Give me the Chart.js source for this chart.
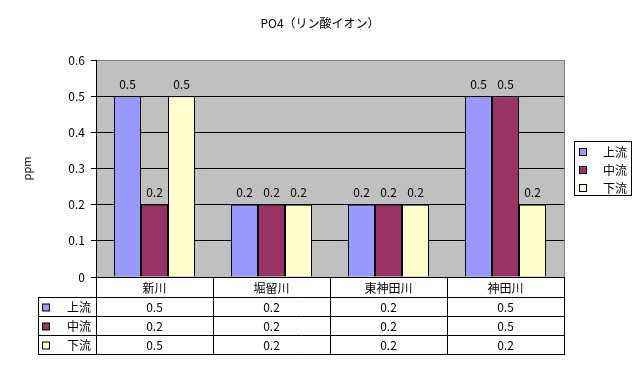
<!DOCTYPE html>
<html>
<head>
<meta charset="utf-8">
<script src="https://cdn.jsdelivr.net/npm/chart.js@4"></script>
<style>
  html, body { margin: 0; padding: 0; background: #ffffff; }
  #wrap { width: 642px; height: 370px; }
</style>
</head>
<body>
<div id="wrap"><canvas id="chart" width="642" height="370"></canvas></div>
<script>
// データ
const categories = ['新川', '堀留川', '東神田川', '神田川'];
const seriesNames = ['上流', '中流', '下流'];
const upstream = [0.5, 0.2, 0.2, 0.5];
const midstream = [0.2, 0.2, 0.2, 0.5];
const downstream = [0.5, 0.2, 0.2, 0.2];
const yTicks = [0, 0.1, 0.2, 0.3, 0.4, 0.5, 0.6];

const colors = ['#9999FF', '#993366', '#FFFFCC'];
const FONT = '"Noto Sans CJK JP", "Liberation Sans", sans-serif';

Chart.defaults.font.family = FONT;
Chart.defaults.font.size = 12;
Chart.defaults.color = '#000000';

// 背景・タイトル・値ラベル・データテーブル・凡例
const excelPlugin = {
    id: 'excelLook',
    beforeDraw(chart) {
        const { ctx, chartArea: a } = chart;
        ctx.save();
        ctx.fillStyle = '#C0C0C0';
        ctx.fillRect(a.left, a.top, a.right - a.left, a.bottom - a.top);
        ctx.restore();
    },
    afterDraw(chart) {
        const { ctx, chartArea: a } = chart;
        const xs = chart.scales.x;
        ctx.save();

        // 枠（右側）
        ctx.strokeStyle = '#808080';
        ctx.lineWidth = 1;
        ctx.beginPath();
        ctx.moveTo(a.right + 0.5, a.top);
        ctx.lineTo(a.right + 0.5, a.bottom);
        ctx.stroke();

        // タイトル
        ctx.fillStyle = '#000';
        ctx.font = '12px ' + FONT;
        ctx.textAlign = 'center';
        ctx.textBaseline = 'middle';
        ctx.fillText('PO4（リン酸イオン）', 320, 23);

        // 値ラベル
        chart.data.datasets.forEach((ds, i) => {
            chart.getDatasetMeta(i).data.forEach((bar, j) => {
                ctx.fillText(ds.data[j].toFixed(1), bar.x, bar.y - 12);
            });
        });

        // データテーブル
        const catW = (a.right - a.left) / categories.length;
        const tableLeft = 38;
        const rowY = [a.bottom, a.bottom + 20, a.bottom + 39, a.bottom + 58, a.bottom + 77];
        ctx.strokeStyle = '#000';
        ctx.beginPath();
        for (let i = 0; i <= categories.length; i++) {
            const x = Math.round(a.left + i * catW) + 0.5;
            ctx.moveTo(x, rowY[0]);
            ctx.lineTo(x, rowY[4]);
        }
        ctx.moveTo(tableLeft + 0.5, rowY[1]);
        ctx.lineTo(tableLeft + 0.5, rowY[4]);
        for (let r = 1; r < rowY.length; r++) {
            ctx.moveTo(tableLeft, rowY[r] + 0.5);
            ctx.lineTo(Math.round(a.right) + 1, rowY[r] + 0.5);
        }
        ctx.stroke();

        categories.forEach((c, j) => {
            const cx = xs.getPixelForValue(j);
            ctx.fillText(c, cx, (rowY[0] + rowY[1]) / 2 + 1);
        });
        chart.data.datasets.forEach((ds, i) => {
            const cy = (rowY[i + 1] + rowY[i + 2]) / 2 + 1;
            ds.data.forEach((v, j) => {
                ctx.fillText(v.toFixed(1), xs.getPixelForValue(j), cy);
            });
            // 凡例マーカー
            ctx.fillStyle = ds.backgroundColor;
            ctx.fillRect(42.5, cy - 3.5, 7, 7);
            ctx.strokeRect(42.5, cy - 3.5, 7, 7);
            ctx.fillStyle = '#000';
            ctx.textAlign = 'right';
            ctx.fillText(ds.label, 91, cy);
            ctx.textAlign = 'center';
        });

        // 凡例
        ctx.strokeRect(574.5, 141.5, 57, 54);
        chart.data.datasets.forEach((ds, i) => {
            const cy = 152 + i * 18;
            ctx.fillStyle = ds.backgroundColor;
            ctx.fillRect(579.5, cy - 3.5, 7, 7);
            ctx.strokeRect(579.5, cy - 3.5, 7, 7);
            ctx.fillStyle = '#000';
            ctx.textAlign = 'right';
            ctx.fillText(ds.label, 627, cy);
        });

        ctx.restore();
    }
};

new Chart(document.getElementById('chart'), {
    type: 'bar',
    data: {
        labels: categories,
        datasets: [upstream, midstream, downstream].map((vals, i) => ({
            label: seriesNames[i],
            data: vals,
            backgroundColor: colors[i],
            borderColor: '#000000',
            borderWidth: 1,
            barPercentage: 1,
            categoryPercentage: 81 / 117
        }))
    },
    options: {
        responsive: false,
        animation: false,
        layout: { padding: { top: 60, right: 78, bottom: 0, left: 0 } },
        plugins: {
            legend: { display: false },
            title: { display: false },
            tooltip: { enabled: false }
        },
        scales: {
            x: {
                grid: { display: false },
                border: { color: '#000000', width: 1 },
                ticks: { display: false },
                afterFit(scale) { scale.height = 93; }
            },
            y: {
                min: 0,
                max: 0.6,
                afterBuildTicks(scale) { scale.ticks = yTicks.map(v => ({ value: v })); },
                ticks: {
                    padding: 6,
                    callback: v => (v === 0 ? '0' : v.toFixed(1))
                },
                grid: {
                    color: ctx => (ctx.tick && ctx.tick.value === 0.6 ? '#808080' : '#000000'),
                    tickColor: '#000000',
                    tickLength: 5
                },
                border: { color: '#000000', width: 1 },
                title: {
                    display: true,
                    text: 'ppm',
                    font: { size: 11 },
                    padding: { top: 20, bottom: 0 }
                },
                afterFit(scale) { scale.width = 96; }
            }
        }
    },
    plugins: [excelPlugin]
});
</script>
</body>
</html>
